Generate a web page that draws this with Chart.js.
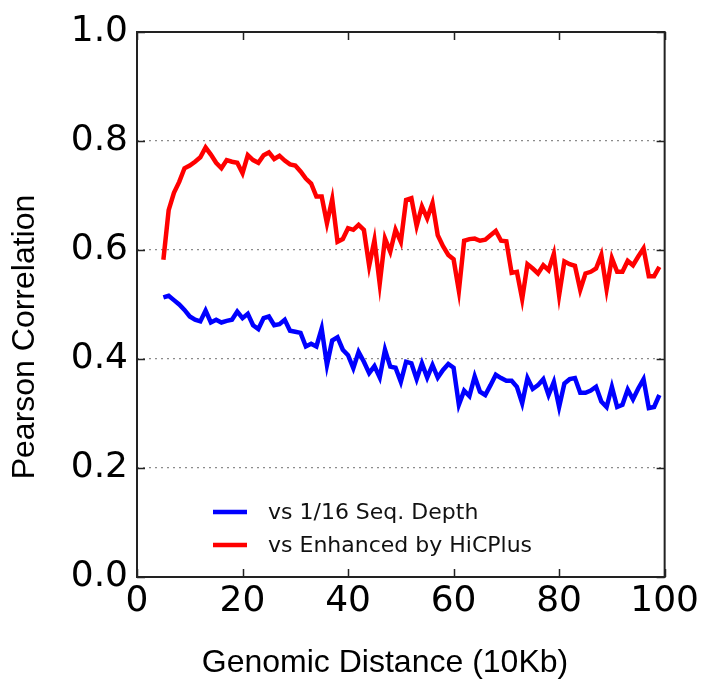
<!DOCTYPE html>
<html>
<head>
<meta charset="utf-8">
<script src="https://cdn.jsdelivr.net/npm/chart.js@4/dist/chart.umd.min.js"></script>
<style>
  html, body { margin: 0; padding: 0; background: #ffffff; }
  #wrap { width: 702px; height: 683px; }
</style>
</head>
<body>
<div id="wrap"><canvas id="c" width="702" height="683"></canvas></div>
<script>
// ---- Data ----
const distances = [5,6,7,8,9,10,11,12,13,14,15,16,17,18,19,20,21,22,23,24,25,26,27,28,29,30,31,32,33,34,35,36,37,38,39,40,41,42,43,44,45,46,47,48,49,50,51,52,53,54,55,56,57,58,59,60,61,62,63,64,65,66,67,68,69,70,71,72,73,74,75,76,77,78,79,80,81,82,83,84,85,86,87,88,89,90,91,92,93,94,95,96,97,98,99];

const seqDepth = [0.513,0.516,0.508,0.500,0.490,0.478,0.472,0.469,0.489,0.467,0.472,0.467,0.470,0.472,0.487,0.475,0.483,0.462,0.455,0.475,0.478,0.462,0.464,0.472,0.452,0.450,0.448,0.423,0.428,0.423,0.456,0.389,0.434,0.440,0.417,0.407,0.383,0.413,0.395,0.374,0.387,0.366,0.417,0.386,0.384,0.358,0.395,0.392,0.363,0.392,0.366,0.389,0.366,0.380,0.391,0.384,0.316,0.342,0.332,0.368,0.340,0.334,0.352,0.371,0.365,0.360,0.360,0.349,0.319,0.365,0.345,0.352,0.363,0.334,0.358,0.312,0.355,0.363,0.365,0.338,0.338,0.342,0.349,0.322,0.312,0.349,0.312,0.316,0.344,0.326,0.346,0.363,0.310,0.312,0.334];

const hicplus = [0.582,0.673,0.705,0.725,0.750,0.755,0.762,0.770,0.788,0.775,0.760,0.750,0.765,0.762,0.760,0.741,0.774,0.765,0.760,0.774,0.779,0.767,0.773,0.764,0.757,0.755,0.744,0.731,0.722,0.698,0.698,0.649,0.693,0.615,0.620,0.640,0.637,0.646,0.637,0.571,0.618,0.538,0.621,0.597,0.637,0.615,0.692,0.695,0.644,0.680,0.658,0.686,0.627,0.607,0.591,0.583,0.525,0.617,0.620,0.621,0.617,0.619,0.627,0.635,0.617,0.616,0.558,0.560,0.510,0.574,0.566,0.557,0.572,0.563,0.593,0.517,0.579,0.574,0.571,0.527,0.557,0.560,0.566,0.591,0.528,0.585,0.560,0.560,0.580,0.572,0.588,0.603,0.552,0.552,0.569];

const seriesLabels = ['vs 1/16 Seq. Depth', 'vs Enhanced by HiCPlus'];
const xTicks = [0, 20, 40, 60, 80, 100];
const yTicks = [0.0, 0.2, 0.4, 0.6, 0.8, 1.0];
const xTitle = 'Genomic Distance (10Kb)';
const yTitle = 'Pearson Correlation';

// ---- Plot frame, inward ticks, axis titles and legend (matplotlib classic look) ----
const framePlugin = {
  id: 'frame',
  afterDraw(chart) {
    const ctx = chart.ctx;
    const a = chart.chartArea;
    const xs = chart.scales.x, ys = chart.scales.y;
    ctx.save();
    ctx.strokeStyle = '#222222';
    ctx.lineWidth = 1.5;
    const tl = 8;
    ctx.beginPath();
    xTicks.forEach(v => {
      const px = Math.round(xs.getPixelForValue(v)) + 0.5;
      ctx.moveTo(px, a.bottom); ctx.lineTo(px, a.bottom - tl);
      ctx.moveTo(px, a.top); ctx.lineTo(px, a.top + tl);
    });
    yTicks.forEach(v => {
      const py = Math.round(ys.getPixelForValue(v)) + 0.5;
      ctx.moveTo(a.left, py); ctx.lineTo(a.left + tl, py);
      ctx.moveTo(a.right, py); ctx.lineTo(a.right - tl, py);
    });
    ctx.stroke();
    ctx.lineWidth = 2;
    ctx.strokeRect(a.left, a.top, a.right - a.left, a.bottom - a.top);

    // axis titles
    ctx.fillStyle = '#000000';
    ctx.font = '32px "Liberation Sans"';
    ctx.textAlign = 'center';
    ctx.textBaseline = 'middle';
    ctx.fillText(xTitle, a.left + 248, a.bottom + 86);
    ctx.save();
    ctx.translate(25, a.top + 305);
    ctx.rotate(-Math.PI / 2);
    ctx.fillText(yTitle, 0, 0);
    ctx.restore();

    // legend (no frame), lower-left inside the axes
    const ds = chart.data.datasets;
    const lx0 = a.left + 76, lx1 = a.left + 110, tx = a.left + 131;
    const rows = [a.top + 480, a.top + 513];
    ctx.font = '22px "DejaVu Sans"';
    ctx.textBaseline = 'middle';
    ctx.textAlign = 'left';
    ds.forEach((d, i) => {
      ctx.strokeStyle = d.borderColor;
      ctx.lineWidth = 4.5;
      ctx.beginPath();
      ctx.moveTo(lx0, rows[i]); ctx.lineTo(lx1, rows[i]);
      ctx.stroke();
      ctx.fillStyle = '#111111';
      ctx.fillText(d.label, tx, rows[i] + 1);
    });
    ctx.restore();
  }
};

const toPts = vals => distances.map((d, i) => ({ x: d, y: vals[i] }));

new Chart(document.getElementById('c'), {
  type: 'line',
  data: {
    datasets: [
      { label: seriesLabels[0], data: toPts(seqDepth), borderColor: '#0000ff', backgroundColor: '#0000ff', borderWidth: 4.5, pointRadius: 0, tension: 0, fill: false },
      { label: seriesLabels[1], data: toPts(hicplus), borderColor: '#ff0000', backgroundColor: '#ff0000', borderWidth: 4.5, pointRadius: 0, tension: 0, fill: false }
    ]
  },
  options: {
    responsive: false,
    animation: false,
    devicePixelRatio: 1,
    layout: { padding: { left: 0, right: 37, top: 32, bottom: 0 } },
    plugins: { legend: { display: false }, tooltip: { enabled: false } },
    scales: {
      x: {
        type: 'linear', min: 0, max: 100,
        afterBuildTicks: s => { s.ticks = xTicks.map(v => ({ value: v })); },
        afterFit: s => { s.height = 106; },
        grid: { display: false, drawTicks: false },
        border: { display: false },
        ticks: { font: { family: 'DejaVu Sans', size: 36 }, color: '#000000', padding: 3, maxRotation: 0, callback: v => String(v) },
        title: { display: false, text: xTitle }
      },
      y: {
        type: 'linear', min: 0, max: 1,
        afterBuildTicks: s => { s.ticks = yTicks.map(v => ({ value: v })); },
        afterFit: s => { s.width = 137; },
        grid: {
          drawTicks: false,
          lineWidth: 1.2,
          color: c => (c.tick && (c.tick.value === 0 || c.tick.value === 1)) ? 'rgba(0,0,0,0)' : '#8c8c8c'
        },
        border: { display: false, dash: [2, 4] },
        ticks: { font: { family: 'DejaVu Sans', size: 36 }, color: '#000000', padding: 9, callback: v => Number(v).toFixed(1) },
        title: { display: false, text: yTitle }
      }
    }
  },
  plugins: [framePlugin]
});
</script>
</body>
</html>
